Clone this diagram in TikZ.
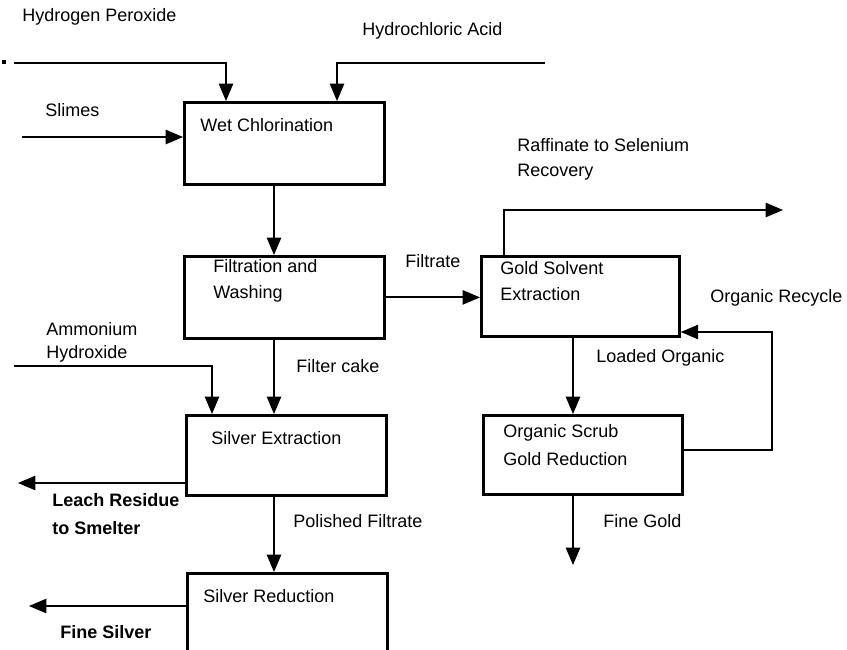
\documentclass[tikz,border=0pt]{standalone}
\usepackage{fontspec}
\setmainfont{Liberation Sans}
\usepackage{tikz}
\usetikzlibrary{arrows,positioning}
\tikzset{>=triangle 45}

\begin{document}
\begin{tikzpicture}[x=0.5pt,y=-0.5pt,
                    procbox/.style={draw, black, line width=1.4pt, rectangle, anchor=north west, inner sep=0pt, minimum width=100pt, minimum height=41pt},
                    flow/.style={line width=1pt, black, ->},
                    line/.style={line width=1pt, black},
                    lbl/.style={anchor=west, inner sep=0pt, font=\fontsize{9}{10}\selectfont},
                    blbl/.style={lbl, font=\fontsize{9}{10}\selectfont\bfseries},
                   ]

\useasboundingbox (0,0) rectangle (847,649);
\clip (0,0) rectangle (847,649);

% process boxes
\node[procbox] (wet) at (183,101) {};
\node[procbox] (filt) at (183,255) {};
\node[procbox, minimum width=99pt, minimum height=40pt] (gsx) at (480,255) {};
\node[procbox, minimum width=99.5pt, minimum height=39.5pt] (scrub) at (482,414) {};
\node[procbox, minimum height=40pt] (sext) at (185,414) {};
\node[procbox, minimum height=60pt] (sred) at (186,572) {};

\node[lbl] (wettxt) at (200,125) {Wet Chlorination};
\node[lbl] (filttxt1) at (213,266) {Filtration and};
\node[lbl] (filttxt2) at (213,294) {Washing};
\node[lbl] (gsxtxt1) at (500,268) {Gold Solvent};
\node[lbl] (gsxtxt2) at (500,294) {Extraction};
\node[lbl] (scrubtxt1) at (503,433) {Organic Scrub};
\node[lbl] (scrubtxt2) at (503,459) {Gold Reduction};
\node[lbl] (sexttxt) at (211,438) {Silver Extraction};
\node[lbl] (sredtxt) at (203,596) {Silver Reduction};

% stream labels
\node[lbl] (h2o2txt) at (22,17) {Hydrogen Peroxide};
\node[lbl] (hcltxt) at (362,31) {Hydrochloric Acid};
\node[lbl] (slimestxt) at (45,110) {Slimes};
\node[lbl] (raftxt1) at (517,145) {Raffinate to Selenium};
\node[lbl] (raftxt2) at (517,172) {Recovery};
\node[lbl] (filtratetxt) at (405,261) {Filtrate};
\node[lbl] (recytxt) at (710,298) {Organic Recycle};
\node[lbl] (nh4txt1) at (46,329) {Ammonium};
\node[lbl] (nh4txt2) at (46,354) {Hydroxide};
\node[lbl] (caketxt) at (296,366) {Filter cake};
\node[lbl] (loadtxt) at (596,358) {Loaded Organic};
\node[blbl] (leachtxt1) at (52,500) {Leach Residue};
\node[blbl] (leachtxt2) at (52,528) {to Smelter};
\node[lbl] (poltxt) at (293,521) {Polished Filtrate};
\node[lbl] (goldtxt) at (603,521) {Fine Gold};
\node[blbl] (silvtxt) at (60,632) {Fine Silver};

% stream end points and corners
\coordinate (h2o2) at (14,63);
\coordinate (h2o2c) at (226,63);
\coordinate (hcl) at (545,63);
\coordinate (hclc) at (337,63);
\coordinate (slimes) at (22,137);
\coordinate (col) at (274,0);
\coordinate (raffc) at (504,210);
\coordinate (raff) at (783,210);
\coordinate (gcol) at (573,0);
\coordinate (recb) at (772,450);
\coordinate (rect) at (772,332);
\coordinate (gold) at (573,565);
\coordinate (nh4) at (14,366);
\coordinate (nh4c) at (212,366);
\coordinate (leach) at (18,483);
\coordinate (silver) at (29,606);

\fill[black] (2,60) rectangle (6,64);

\draw[flow] (h2o2) -- (h2o2c) -- (h2o2c |- wet.north);
\draw[flow] (hcl) -- (hclc) -- (hclc |- wet.north);
\draw[flow] (slimes) -- (slimes -| wet.west);
\draw[flow] (wet.south -| col) -- (filt.north -| col);
\draw[flow] (filt.east) -- (filt.east -| gsx.west);
\draw[flow] (raffc |- gsx.north) -- (raffc) -- (raff);
\draw[flow] (gsx.south -| gcol) -- (scrub.north -| gcol);
\draw[flow] (recb -| scrub.east) -- (recb) -- (rect) -- (rect -| gsx.east);
\draw[flow] (scrub.south -| gold) -- (gold);
\draw[flow] (filt.south -| col) -- (sext.north -| col);
\draw[flow] (nh4) -- (nh4c) -- (nh4c |- sext.north);
\draw[flow] (sext.west |- leach) -- (leach);
\draw[flow] (sext.south -| col) -- (sred.north -| col);
\draw[flow] (sred.west |- silver) -- (silver);

\end{tikzpicture}
\end{document}
